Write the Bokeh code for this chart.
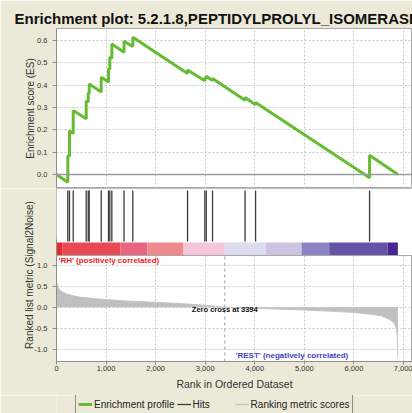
from bokeh.plotting import figure
from bokeh.layouts import column
from bokeh.models import (Range1d, FixedTicker, Grid, Label, Legend, LegendItem, Span, BoxAnnotation,
                          NumeralTickFormatter, LinearAxis, ColumnDataSource)
from bokeh.embed import file_html
from bokeh.resources import INLINE

# ---------------- data ----------------
title_text = "Enrichment plot: 5.2.1.8,PEPTIDYLPROLYL_ISOMERASE"
zero_cross = 3394

# running enrichment score polyline (rank, ES)
es_rank = [0, 228, 228, 262, 262, 337, 337, 599, 599, 640, 640, 660, 660, 902, 902,
           1049, 1049, 1075, 1075, 1116, 1116, 1362, 1362, 1539, 1539, 2643, 2643,
           2992, 2992, 3020, 3020, 3147, 3147, 3803, 3803, 4015, 4015, 6314, 6314, 6885]
es_value = [0.0, -0.035, 0.085, 0.08, 0.195, 0.183, 0.287, 0.25, 0.33, 0.325, 0.365,
            0.362, 0.405, 0.369, 0.436, 0.414, 0.474, 0.47, 0.526, 0.52, 0.585,
            0.548, 0.597, 0.573, 0.615, 0.452, 0.468, 0.42, 0.433, 0.429, 0.44,
            0.421, 0.43, 0.332, 0.345, 0.312, 0.322, -0.015, 0.086, 0.0]

# gene set member positions (hits)
hit_ranks = [228, 262, 337, 599, 640, 660, 902, 1049, 1075, 1116, 1362, 1539,
             2643, 2992, 3020, 3147, 3803, 4015, 6314]

# ranked list metric (Signal2Noise)
metric_rank = [0, 20, 50, 100, 200, 350, 500, 750, 1000, 1300, 1600, 2000, 2500,
               3000, 3394, 3800, 4300, 4900, 5500, 5950, 6300, 6550, 6700, 6800,
               6850, 6875, 6885]
metric_value = [0.62, 0.52, 0.44, 0.38, 0.32, 0.27, 0.24, 0.21, 0.185, 0.16, 0.14,
                0.12, 0.09, 0.05, 0.0, -0.015, -0.035, -0.06, -0.09, -0.12, -0.16,
                -0.2, -0.28, -0.36, -0.48, -0.7, -1.2]

# heat bar bands
band_edges = [0, 115, 1293, 1832, 2560, 3394, 4222, 4943, 5501, 6680, 6885]
band_colors = ["#e62a32", "#e84a54", "#e86682", "#f08a8e", "#f5c6dc",
               "#dedcf0", "#cec3e1", "#8a84c4", "#6552a4", "#46268f"]

es_ticks = [0.0, 0.1, 0.2, 0.3, 0.4, 0.5, 0.6]
metric_ticks = [-1.0, -0.5, 0.0, 0.5, 1.0]
rank_ticks = [0, 1000, 2000, 3000, 4000, 5000, 6000, 7000]

# ---------------- style ----------------
BG = "#ece9d8"
FONT = "Liberation Sans"
GREEN = "#66bb33"
HIT = "#3c3c3c"
GRID = "#c8c8c8"
W = 412
LEFT = 56
x_range = Range1d(0, 7180)

METRIC_LO, METRIC_HI = -1.295, 1.24      # visible metric span of the lower panel
PANEL_TOP = 2.842                         # top of the hits strip in metric units
AXIS_TOP = 1.623                          # end of metric axis rule


def make_fig(h, top, bottom, y_range, left=LEFT):
    p = figure(width=W, height=h, x_range=x_range, y_range=y_range,
               output_backend="svg", toolbar_location=None,
               min_border_left=left, min_border_right=0,
               min_border_top=top, min_border_bottom=bottom,
               background_fill_color="white", border_fill_color=BG,
               outline_line_color="#a8a8a8",
               x_axis_location=None, y_axis_location=None)
    for g in p.grid:
        g.visible = False
    return p


def add_grid(p, dim, ticks):
    p.add_layout(Grid(dimension=dim, ticker=FixedTicker(ticks=ticks),
                      grid_line_color=GRID, grid_line_dash="2 2", grid_line_width=1), "center")


def style_axis(ax):
    ax.axis_line_color = "#909090"
    ax.major_tick_line_color = "#909090"
    ax.major_tick_out = 4
    ax.major_tick_in = 0
    ax.minor_tick_line_color = None
    ax.major_label_text_font = FONT
    ax.major_label_text_font_size = "7.5px"
    ax.major_label_text_color = "#333333"
    ax.axis_label_text_font = FONT
    ax.axis_label_text_font_size = "10px"
    ax.axis_label_text_font_style = "normal"
    ax.axis_label_text_color = "#333333"


# ---- panel 1: enrichment score ----
p1 = make_fig(188, 28, 0, Range1d(-0.063, 0.654))
p1.title.text = title_text
p1.title.text_font = FONT
p1.title.text_font_size = "15px"
p1.title.text_font_style = "bold"
p1.title.text_color = "#111111"
p1.title.align = "left"
p1.title.offset = -42
p1.title.standoff = 3
add_grid(p1, 0, rank_ticks)
add_grid(p1, 1, es_ticks)
ax1 = LinearAxis(ticker=FixedTicker(ticks=es_ticks), formatter=NumeralTickFormatter(format="0.0"),
                 axis_label="Enrichment score (ES)")
style_axis(ax1)
ax1.major_label_standoff = 5
ax1.axis_label_standoff = -2
p1.add_layout(ax1, "left")
p1.add_layout(Span(location=0, dimension="width", line_color="#9a9a9a", line_width=1.5))
p1.line(es_rank, es_value, line_color=GREEN, line_width=3)

# ---- panel 2+3: hits strip + ranked list metric ----
p3 = make_fig(207, 0, 34, Range1d(METRIC_LO, PANEL_TOP))
p3.extra_y_ranges = {"hits": Range1d(-1.582, 1)}
add_grid(p3, 0, rank_ticks)
add_grid(p3, 1, metric_ticks)
# hits strip has plain white background (no grid)
p3.add_layout(BoxAnnotation(bottom=METRIC_HI, fill_color="white", fill_alpha=1,
                            line_color=None, level="underlay"))
p3.add_layout(Span(location=METRIC_HI, dimension="width", line_color="#a8a8a8", line_width=1))

ax3y = LinearAxis(ticker=FixedTicker(ticks=metric_ticks), formatter=NumeralTickFormatter(format="0.0"),
                  axis_label="Ranked list metric (Signal2Noise)", bounds=(METRIC_LO, AXIS_TOP))
style_axis(ax3y)
ax3y.major_label_standoff = 5
ax3y.axis_label_standoff = -3
p3.add_layout(ax3y, "left")
ax3x = LinearAxis(ticker=FixedTicker(ticks=rank_ticks), formatter=NumeralTickFormatter(format="0,0"),
                  axis_label="Rank in Ordered Dataset")
style_axis(ax3x)
ax3x.major_tick_out = 3
ax3x.major_label_standoff = 1
ax3x.axis_label_standoff = 4
ax3x.axis_label_text_font_size = "10.5px"
p3.add_layout(ax3x, "below")

p3.segment(x0=hit_ranks, y0=0.21, x1=hit_ranks, y1=0.97, line_color=HIT, line_width=1.3,
           y_range_name="hits")
p3.quad(left=band_edges[:-1], right=band_edges[1:], bottom=0, top=0.194,
        fill_color=band_colors, line_color=None, y_range_name="hits")

src = ColumnDataSource(dict(x=metric_rank, y=metric_value))
p3.varea(x="x", y1=0, y2="y", source=src, fill_color="#c0c0c0")
p3.line(x="x", y="y", source=src, line_color="#c4c4c4", line_width=1)
p3.segment(x0=[zero_cross], y0=[METRIC_LO], x1=[zero_cross], y1=[METRIC_HI],
           line_color="#a0a0a0", line_dash="3 3", line_width=1)

p3.add_layout(Label(x=40, y=1.12, text="'RH' (positively correlated)", text_font=FONT,
                    text_font_size="8px", text_font_style="bold", text_color="#ee2222",
                    text_baseline="middle", text_align="left"))
p3.add_layout(Label(x=zero_cross, y=-0.06, text=f"Zero cross at {zero_cross}", text_font=FONT,
                    text_font_size="7.5px", text_font_style="bold", text_color="#111111",
                    text_baseline="middle", text_align="center"))
p3.add_layout(Label(x=3611, y=-1.15, text="'REST' (negatively correlated)", text_font=FONT,
                    text_font_size="8px", text_font_style="bold", text_color="#4444bb",
                    text_baseline="middle", text_align="left"))

# ---- legend strip ----
p4 = make_fig(18, 0, 0, Range1d(0, 1))
p4.background_fill_color = BG
p4.outline_line_color = None
leg_es = p4.line(es_rank, es_value, line_color=GREEN, line_width=3, visible=False)
leg_hits = p4.segment(x0=hit_ranks, y0=0.21, x1=hit_ranks, y1=0.97, line_color=HIT,
                      line_width=1.3, visible=False)
leg_metric = p4.line(metric_rank, metric_value, line_color="#c4c4c4", line_width=1.3, visible=False)
legend = Legend(items=[LegendItem(label="Enrichment profile", renderers=[leg_es]),
                       LegendItem(label="Hits", renderers=[leg_hits]),
                       LegendItem(label="Ranking metric scores", renderers=[leg_metric])],
                orientation="horizontal", location=(19, -2),
                border_line_color="#333333", border_line_width=1,
                background_fill_color=BG, background_fill_alpha=1,
                inactive_fill_alpha=0,
                label_text_font=FONT, label_text_font_size="10px", label_text_color="#222222",
                glyph_width=14, glyph_height=16, label_height=16, label_width=40,
                label_standoff=2, spacing=2, padding=2, margin=0)
p4.add_layout(legend, "center")

layout = column(p1, p3, p4, spacing=0)

open("out.html", "w").write(file_html(layout, INLINE))
